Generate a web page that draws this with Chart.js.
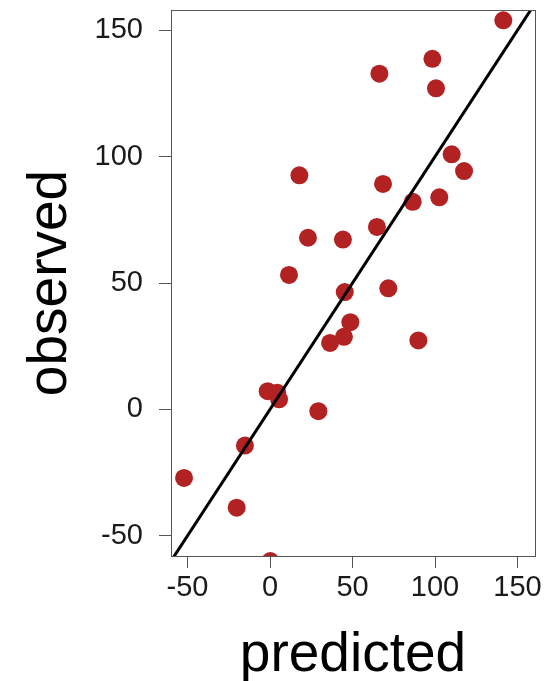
<!DOCTYPE html>
<html>
<head>
<meta charset="utf-8">
<script src="https://cdn.jsdelivr.net/npm/chart.js@4/dist/chart.umd.min.js"></script>
<style>
  html, body { margin: 0; padding: 0; background: #fff; }
  #wrap { width: 560px; height: 681px; }
</style>
</head>
<body>
<div id="wrap"><canvas id="chart" width="560" height="681"></canvas></div>
<script>
// values
const predicted = [141.4, 98.4, 66.3, 100.6, 110.1, 117.6, 17.8, 68.5, 86.5, 102.6,
                   64.8, 23.0, 44.2, 11.5, 45.3, 71.7, 48.7, 44.8, 36.4, 89.9,
                   -1.4, 4.4, 5.5, 29.3, -15.2, -52.1, -20.2, 0.2];
const observed  = [153.9, 138.7, 132.8, 127.0, 100.9, 94.3, 92.6, 89.2, 82.1, 83.9,
                   72.2, 67.9, 67.2, 53.2, 46.4, 47.9, 34.5, 28.7, 26.3, 27.3,
                   7.2, 6.6, 4.0, -0.7, -14.3, -27.1, -38.9, -60.0];

// 1:1 reference line
const lineX = [-60, 161];
const lineY = [-60, 161];

const xTicks = [-50, 0, 50, 100, 150];
const yTicks = [-50, 0, 50, 100, 150];

const FONT = 'Liberation Sans, Arial, Helvetica, sans-serif';

// draws the full box around the plot region
const boxPlugin = {
    id: 'box',
    afterDraw(chart) {
        const { ctx, chartArea: a } = chart;
        ctx.save();
        ctx.strokeStyle = '#555';
        ctx.lineWidth = 1;
        ctx.strokeRect(a.left + 0.5, a.top + 0.5, a.right - a.left, a.bottom - a.top);
        ctx.restore();
    }
};

const points = predicted.map((x, i) => ({ x, y: observed[i] }));
const line = lineX.map((x, i) => ({ x, y: lineY[i] }));

new Chart(document.getElementById('chart'), {
    type: 'scatter',
    data: {
        datasets: [
            {
                data: line,
                showLine: true,
                borderColor: '#000',
                borderWidth: 3,
                pointRadius: 0,
                order: 1
            },
            {
                data: points,
                backgroundColor: '#b22222',
                borderColor: '#b22222',
                borderWidth: 0,
                pointRadius: 9,
                pointHoverRadius: 9,
                clip: 0,
                order: 2
            }
        ]
    },
    options: {
        responsive: false,
        animation: false,
        events: [],
        layout: { padding: { top: 10, right: 25, left: 0, bottom: 0 } },
        plugins: { legend: { display: false }, tooltip: { enabled: false } },
        scales: {
            x: {
                type: 'linear',
                min: -60,
                max: 160.6,
                afterBuildTicks: s => { s.ticks = xTicks.map(v => ({ value: v })); },
                afterFit: s => { s.height = 125; s.paddingLeft = 0; s.paddingRight = 0; },
                border: { display: false },
                grid: { drawOnChartArea: false, tickLength: 12, color: '#555', lineWidth: 1 },
                ticks: { color: '#1a1a1a', padding: 3, maxRotation: 0, font: { family: FONT, size: 29 } },
                title: {
                    display: true,
                    text: 'predicted',
                    color: '#000',
                    padding: { top: 0, bottom: -2 },
                    font: { family: FONT, size: 55, lineHeight: 1 }
                }
            },
            y: {
                type: 'linear',
                min: -58,
                max: 158,
                afterBuildTicks: s => { s.ticks = yTicks.map(v => ({ value: v })); },
                afterFit: s => { s.width = 171; s.paddingTop = 0; s.paddingBottom = 0; },
                border: { display: false },
                grid: { drawOnChartArea: false, tickLength: 12, color: '#555', lineWidth: 1 },
                ticks: { color: '#1a1a1a', padding: 16, font: { family: FONT, size: 29 } },
                title: {
                    display: true,
                    text: 'observed',
                    color: '#000',
                    padding: { top: 23, bottom: 0 },
                    font: { family: FONT, size: 55, lineHeight: 1 }
                }
            }
        }
    },
    plugins: [boxPlugin]
});
</script>
</body>
</html>
